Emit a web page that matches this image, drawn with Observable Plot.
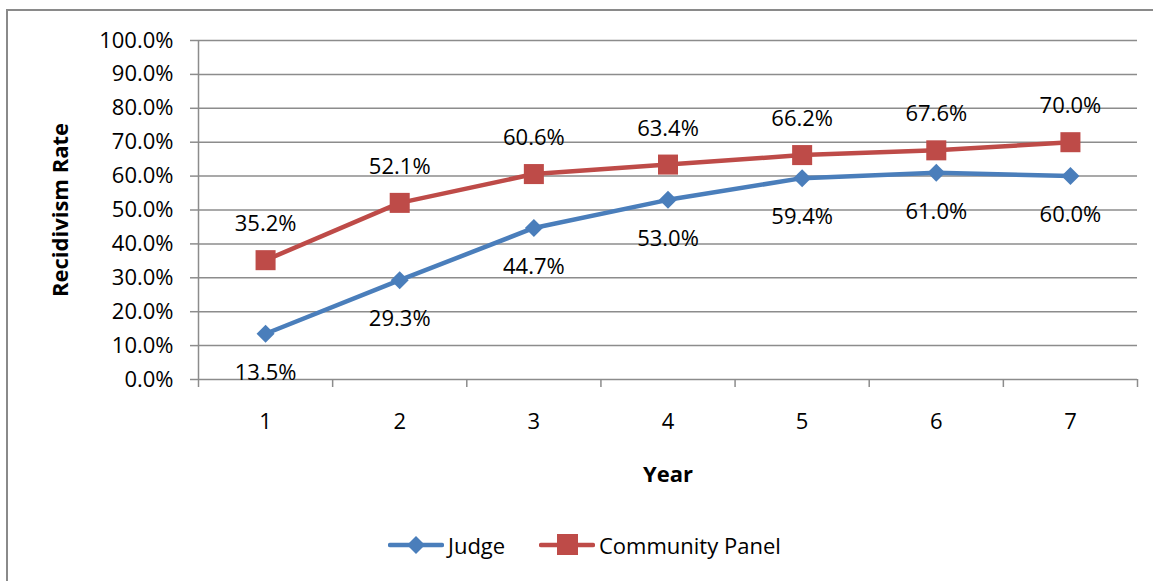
<!DOCTYPE html>
<html>
<head>
<meta charset="utf-8">
<script src="https://cdn.jsdelivr.net/npm/d3@7"></script>
<script src="https://cdn.jsdelivr.net/npm/@observablehq/plot@0.6"></script>
<style>
  body { margin: 0; background: #fff; font-family: "Open Sans", sans-serif; }
  #wrap { position: relative; width: 1153px; height: 581px; overflow: hidden; background: #fff; }
  #frame { position: absolute; left: 6px; top: 9px; width: 1300px; height: 700px;
           border-left: 2px solid #8a8a8a; border-top: 2px solid #8a8a8a; }
  #chart { position: absolute; left: 0; top: 0; }
  #legend { position: absolute; left: 0; top: 520px; width: 1153px; height: 61px; }
  .item { position: absolute; top: 10px; height: 30px; display: flex; align-items: center;
          font-size: 22px; color: #000; white-space: pre; }
  .item svg { margin-right: 4px; }
</style>
</head>
<body>
<div id="wrap">
  <div id="frame"></div>
  <div id="chart"></div>
  <div id="legend"></div>
</div>
<script>
// Recidivism rate by year, for cases heard by a judge vs. a community panel
const years = [1, 2, 3, 4, 5, 6, 7];
const judge = [0.135, 0.293, 0.447, 0.530, 0.594, 0.610, 0.600];
const panel = [0.352, 0.521, 0.606, 0.634, 0.662, 0.676, 0.700];
const seriesNames = ["Judge", "Community Panel"];
const seriesColors = ["#4a7ebb", "#be4b48"];
const yTicks = [0, 0.1, 0.2, 0.3, 0.4, 0.5, 0.6, 0.7, 0.8, 0.9, 1.0];
const bandEdges = [0.5, 1.5, 2.5, 3.5, 4.5, 5.5, 6.5, 7.5];

const pct = d3.format(".1%");
const judgeRows = years.map((year, i) => ({year, value: judge[i], series: seriesNames[0]}));
const panelRows = years.map((year, i) => ({year, value: panel[i], series: seriesNames[1]}));

const gray = "#8c8c8c";
const fontSize = 22;

const chart = Plot.plot({
  width: 1153,
  height: 520,
  marginLeft: 198,
  marginRight: 16,
  marginTop: 40,
  marginBottom: 141,
  style: {fontFamily: "'Open Sans', sans-serif", fontSize: "22px", background: "transparent", color: "#000", overflow: "visible"},
  x: {type: "linear", domain: [0.5, 7.5]},
  y: {domain: [0, 1]},
  marks: [
    Plot.gridY(yTicks, {stroke: gray, strokeOpacity: 1, strokeWidth: 1.5}),
    Plot.axisY(yTicks, {tickFormat: pct, tickSize: 8, tickPadding: 17, stroke: gray, strokeWidth: 1.5,
                        fill: "#000", fontSize, label: null}),
    Plot.ruleX([0.5], {stroke: gray, strokeWidth: 1.5}),
    Plot.axisX(bandEdges, {tickFormat: () => "", tickSize: 8, stroke: gray, strokeWidth: 1.5, label: null}),
    Plot.text(years, {x: d => d, text: d => String(d), frameAnchor: "bottom", dy: 42,
                      lineAnchor: "middle", fontSize, fill: "#000"}),
    Plot.text(["Year"], {frameAnchor: "bottom", dy: 95, lineAnchor: "middle", fontSize,
                         fontWeight: "bold", fill: "#000"}),
    Plot.text(["Recidivism Rate"], {frameAnchor: "left", dx: -138, rotate: -90, textAnchor: "middle",
                                    lineAnchor: "middle", fontSize, fontWeight: "bold", fill: "#000"}),
    Plot.line(judgeRows, {x: "year", y: "value", stroke: seriesColors[0], strokeWidth: 4.5,
                          strokeLinecap: "round", strokeLinejoin: "round"}),
    Plot.line(panelRows, {x: "year", y: "value", stroke: seriesColors[1], strokeWidth: 4.5,
                          strokeLinecap: "round", strokeLinejoin: "round"}),
    Plot.dot(judgeRows, {x: "year", y: "value", symbol: "diamond2", r: 8.1, fill: seriesColors[0], stroke: null}),
    Plot.dot(panelRows, {x: "year", y: "value", symbol: "square", r: 11.3, fill: seriesColors[1], stroke: null}),
    Plot.text(panelRows, {x: "year", y: "value", text: d => pct(d.value), dy: -36, lineAnchor: "middle",
                          fontSize, fill: "#000"}),
    Plot.text(judgeRows, {x: "year", y: "value", text: d => pct(d.value), dy: 39, lineAnchor: "middle",
                          fontSize, fill: "#000"})
  ]
});
document.getElementById("chart").appendChild(chart);

// Legend: line-with-marker swatches followed by the series names
const legend = d3.select("#legend");
const legendLeft = [388, 539];
const markers = [
  g => g.append("path").attr("d", "M28,3 L37,12 L28,21 L19,12 Z"),
  g => g.append("rect").attr("x", 18).attr("y", 1).attr("width", 21).attr("height", 21)
];
seriesNames.forEach((name, i) => {
  const item = legend.append("div").attr("class", "item").style("left", legendLeft[i] + "px");
  const svg = item.append("svg").attr("width", 56).attr("height", 24);
  svg.append("line").attr("x1", 2).attr("x2", 54).attr("y1", 12).attr("y2", 12)
     .attr("stroke", seriesColors[i]).attr("stroke-width", 4.5).attr("stroke-linecap", "round");
  markers[i](svg.append("g").attr("fill", seriesColors[i]));
  item.append("span").text(name);
});
</script>
</body>
</html>
